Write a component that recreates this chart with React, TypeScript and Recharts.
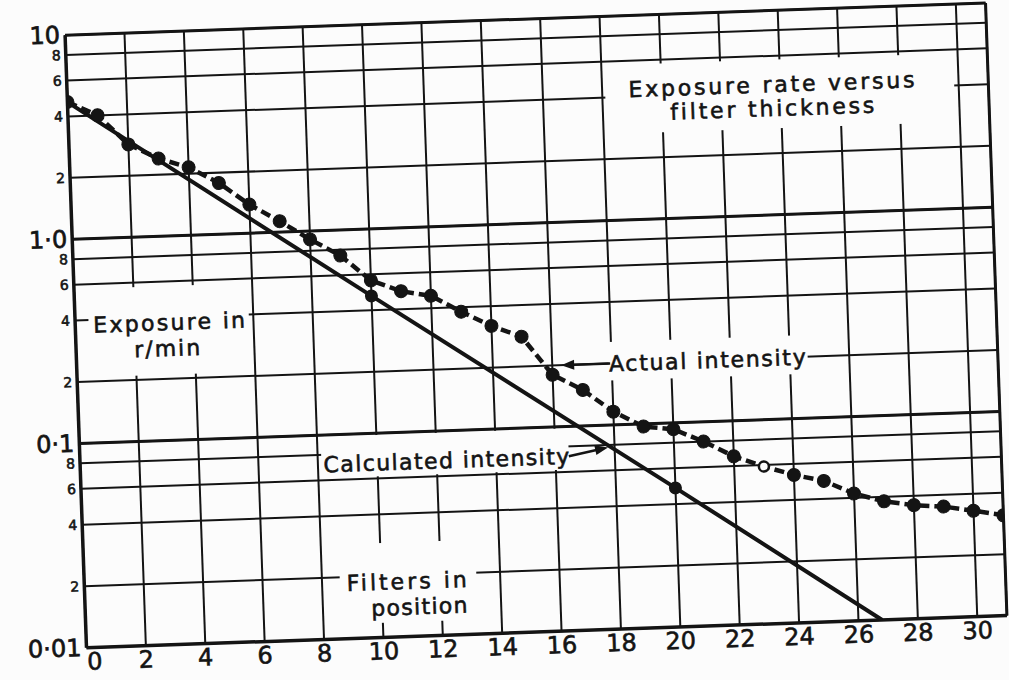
import {
  LineChart, Line, XAxis, YAxis, CartesianGrid,
  ReferenceLine, ReferenceArea, ReferenceDot,
} from "recharts";

// filters in position vs exposure rate (r/min), log scale
const filters = [
  0, 1, 2, 3, 4, 5, 6, 7, 8, 9, 10, 11, 12, 13, 14, 15,
  16, 17, 18, 19, 20, 21, 22, 23, 24, 25, 26, 27, 28, 29, 30, 31,
];
const actualRate = [
  4.7, 4.0, 2.85, 2.4, 2.15, 1.78, 1.38, 1.13, 0.91, 0.75, 0.56, 0.49, 0.46, 0.38, 0.32, 0.28,
  0.18, 0.15, 0.116, 0.097, 0.093, 0.08, 0.067, 0.059, 0.053, 0.049, 0.042, 0.038, 0.036, 0.035, 0.033, 0.031,
];
const calcFilters = [0, 10, 20, 26.8];
const calcRate = [4.7, 0.47, 0.048, 0.01];
const calcMarked = [10, 20];
const hollowAt = [23];

const xTicks = [0, 2, 4, 6, 8, 10, 12, 14, 16, 18, 20, 22, 24, 26, 28, 30];
const yTicks = [0.01, 0.02, 0.04, 0.06, 0.08, 0.1, 0.2, 0.4, 0.6, 0.8, 1, 2, 4, 6, 8, 10];
const yLabels = ["0·01", "2", "4", "6", "8", "0·1", "2", "4", "6", "8", "1·0", "2", "4", "6", "8", "10"];

const actualData = filters.map((x, i) => ({ x, v: actualRate[i] }));
const calcData = calcFilters.map((x, i) => ({ x, v: calcRate[i] }));

const INK = "#141414";
const PAPER = "#fcfcfc";
const FONT = "'DejaVu Sans', Verdana, sans-serif";

function YTick({ x, y, payload }: any) {
  const i = yTicks.indexOf(payload.value);
  const label = yLabels[i] ?? "";
  const big = label.length > 1;
  return (
    <text x={x} y={y} textAnchor="end" dominantBaseline="central"
      fontSize={big ? 24 : 14} fontFamily={FONT} fill={INK}
      stroke={INK} strokeWidth={big ? 0.7 : 0.6}>
      {label}
    </text>
  );
}

function XTick({ x, y, payload }: any) {
  return (
    <text x={x + (payload.value === 0 ? 8 : 0)} y={y + 14} textAnchor="middle"
      dominantBaseline="central" fontSize={24} fontFamily={FONT} fill={INK}
      stroke={INK} strokeWidth={0.6}>
      {payload.value}
    </text>
  );
}

function ActualDot({ cx, cy, payload, index }: any) {
  if (cx == null || cy == null) return <g key={`a${index}`} />;
  const open = hollowAt.includes(payload.x);
  return (
    <circle key={`a${index}`} cx={cx} cy={cy} r={open ? 5 : 6.5}
      fill={open ? PAPER : INK} stroke={INK} strokeWidth={open ? 2.5 : 1} />
  );
}

function CalcDot({ cx, cy, payload, index }: any) {
  if (cx == null || !calcMarked.includes(payload.x)) return <g key={`c${index}`} />;
  return <circle key={`c${index}`} cx={cx} cy={cy} r={6.5} fill={INK} />;
}

function note(lines: string[], spacing = 1.5, gap = 24) {
  return ({ cx, cy }: any) => (
    <text x={cx} y={cy} textAnchor="middle" dominantBaseline="central"
      fontSize={22} fontFamily={FONT} letterSpacing={spacing} fill={INK}
      stroke={INK} strokeWidth={0.6}>
      {lines.map((t, i) => (
        <tspan key={t} x={cx} dy={i === 0 ? 0 : gap}>{t}</tspan>
      ))}
    </text>
  );
}

function arrowHead(angle: number) {
  return ({ cx, cy }: any) => (
    <polygon points={`${cx},${cy} ${cx + 13},${cy - 5} ${cx + 13},${cy + 5}`}
      fill={INK} transform={`rotate(${angle} ${cx} ${cy})`} />
  );
}

export default function App() {
  return (
    <div style={{ position: "absolute", left: 0, top: 0, width: 1009, height: 680, background: PAPER, overflow: "hidden" }}>
      <div style={{ transform: "rotate(-2deg)", transformOrigin: "504px 340px" }}>
        <LineChart width={1009} height={680} margin={{ top: 20, right: 12, bottom: 7, left: 16 }}>
          <CartesianGrid stroke={INK} strokeWidth={2} />
          <XAxis type="number" dataKey="x" domain={[0, 31]} ticks={xTicks}
            allowDataOverflow axisLine={false} tickLine={false} tickSize={0}
            tickMargin={0} height={40} tick={<XTick />} interval={0} />
          <YAxis type="number" scale="log" domain={[0.01, 10]} ticks={yTicks}
            allowDataOverflow axisLine={false} tickLine={false} tickSize={0}
            tickMargin={5} width={60} tick={<YTick />} interval={0} />

          {/* frame and heavier decade rules */}
          <ReferenceLine x={0} stroke={INK} strokeWidth={3.5} />
          <ReferenceLine x={31} stroke={INK} strokeWidth={3} />
          <ReferenceLine y={10} stroke={INK} strokeWidth={3} />
          <ReferenceLine y={0.01} stroke={INK} strokeWidth={3.5} />
          <ReferenceLine y={1} stroke={INK} strokeWidth={3} />
          <ReferenceLine y={0.1} stroke={INK} strokeWidth={3} />

          {/* blank patches where the lettering sits */}
          <ReferenceArea x1={18.1} x2={29.85} y1={2.65} y2={5.75} fill={PAPER} fillOpacity={1} stroke="none" />
          <ReferenceArea x1={0.45} x2={5.85} y1={0.21} y2={0.57} fill={PAPER} fillOpacity={1} stroke="none" />
          <ReferenceArea x1={17.9} x2={24.6} y1={0.165} y2={0.255} fill={PAPER} fillOpacity={1} stroke="none" />
          <ReferenceArea x1={8.12} x2={16.45} y1={0.0615} y2={0.098} fill={PAPER} fillOpacity={1} stroke="none" />
          <ReferenceArea x1={8.6} x2={13.2} y1={0.0118} y2={0.029} fill={PAPER} fillOpacity={1} stroke="none" />

          <Line data={calcData} dataKey="v" type="linear" stroke={INK} strokeWidth={4}
            dot={CalcDot} activeDot={false} isAnimationActive={false} />
          <Line data={actualData} dataKey="v" type="linear" stroke={INK} strokeWidth={4.5}
            strokeDasharray="10 5" dot={ActualDot} activeDot={false} isAnimationActive={false} />

          {/* lettering */}
          <ReferenceDot x={23.75} y={4.36} r={0} shape={note(["Exposure rate versus", "filter thickness"], 2.8, 24)} />
          <ReferenceDot x={3.2} y={0.379} r={0} shape={note(["Exposure in"], 2.3)} />
          <ReferenceDot x={3.1} y={0.283} r={0} shape={note(["r/min"], 2)} />
          <ReferenceDot x={21.25} y={0.2} r={0} shape={note(["Actual intensity"], 1.7)} />
          <ReferenceDot x={12.35} y={0.0718} r={0} shape={note(["Calculated intensity"], 1.4)} />
          <ReferenceDot x={10.9} y={0.0187} r={0} shape={note(["Filters in"], 3)} />
          <ReferenceDot x={11.27} y={0.014} r={0} shape={note(["position"], 1.3)} />

          {/* arrows */}
          <ReferenceLine segment={[{ x: 16.5, y: 0.2 }, { x: 17.95, y: 0.2 }]} stroke={INK} strokeWidth={2.5} />
          <ReferenceDot x={16.3} y={0.2} r={0} shape={arrowHead(0)} />
          <ReferenceLine segment={[{ x: 16.45, y: 0.0715 }, { x: 17.5, y: 0.0765 }]} stroke={INK} strokeWidth={2.5} />
          <ReferenceDot x={17.78} y={0.0778} r={0} shape={arrowHead(170)} />
        </LineChart>
      </div>
    </div>
  );
}
